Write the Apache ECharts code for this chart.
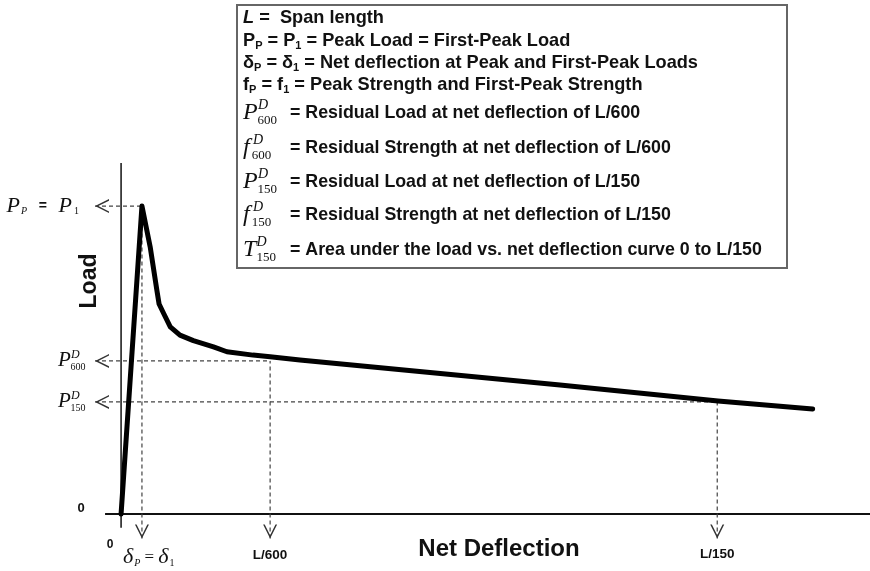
<!DOCTYPE html>
<html><head><meta charset="utf-8">
<script src="https://cdn.jsdelivr.net/npm/echarts@6/dist/echarts.min.js"></script>
<style>html,body{margin:0;padding:0;background:#fff}#c{width:870px;height:571px}</style>
</head><body><div id="c"></div>
<script>
// ---- data (deflection in L/1200 units, load in % of peak) ----
const deflection = [0, 0.28, 0.39, 0.48, 0.51, 0.57, 0.66, 0.79, 0.97, 1.24, 1.42, 1.77, 2.0, 2.4, 5.89, 8.01, 9.28];
const load       = [0, 100, 86.8, 72.7, 68.2, 65.2, 60.8, 58.1, 56.3, 54.3, 52.7, 51.6, 51.1, 50.0, 41.9, 36.7, 34.1];
const markDeflection = [0.28, 2, 8];       // δP, L/600, L/150
const markLoad       = [100, 49.7, 36.4];  // PP, P600, P150
const deflectionTickLabels = ['δP = δ1', 'L/600', 'L/150'];
const xRange = [-0.35, 10.05];
const yRange = [-8, 114];
const xAxisLineSpan = [-0.215, 10.05];
const yAxisLineSpan = [-4.5, 114];
const legendPlain = [
  '{bi|L}{b| =  Span length}',
  '{b|P}{s|P}{b| = P}{s|1}{b| = Peak Load = First-Peak Load}',
  '{b|δ}{s|P}{b| = δ}{s|1}{b| = Net deflection at Peak and First-Peak Loads}',
  '{b|f}{s|P}{b| = f}{s|1}{b| = Peak Strength and First-Peak Strength}'
];
const legendMath = [
  ['P', 'D', '600', '= Residual Load at net deflection of L/600'],
  ['f', 'D', '600', '= Residual Strength at net deflection of L/600'],
  ['P', 'D', '150', '= Residual Load at net deflection of L/150'],
  ['f', 'D', '150', '= Residual Strength at net deflection of L/150'],
  ['T', 'D', '150', '= Area under the load vs. net deflection curve 0 to L/150']
];

const SANS = '"Liberation Sans", Arial, sans-serif';
const SERIF = '"Liberation Serif", "Times New Roman", serif';
const LEFT_ARROW = 'path://M12,0 L0,6 L12,12 L12,10.6 L2.8,6 L12,1.4 Z';
const DOWN_ARROW = 'path://M0,0 L6,12 L12,0 L10.6,0 L6,9.2 L1.4,0 Z';

const chart = echarts.init(document.getElementById('c'), null, {renderer: 'canvas'});

function dashed(points, arrow) {
  const isLeft = arrow === 'left';
  return {
    type: 'line', silent: true, clip: false, z: 2,
    symbol: isLeft ? LEFT_ARROW : DOWN_ARROW,
    symbolSize: [14, 14],
    symbolOffset: isLeft ? [7, 0] : [0, -7],
    itemStyle: {color: '#333'},
    lineStyle: {color: '#444', width: 1.2, type: [4, 3]},
    data: [{value: points[0]}, {value: points[1], symbol: 'none'}]
  };
}

const series = [];
series.push({type: 'line', silent: true, symbol: 'none', clip: false, z: 1,
  lineStyle: {color: '#111', width: 2},
  data: [[xAxisLineSpan[0], 0], [xAxisLineSpan[1], 0]]});
series.push({type: 'line', silent: true, symbol: 'none', clip: false, z: 1,
  lineStyle: {color: '#111', width: 1.5},
  data: [[0, yAxisLineSpan[0]], [0, yAxisLineSpan[1]]]});
for (let i = 0; i < markDeflection.length; i++) {
  series.push(dashed([[xRange[0], markLoad[i]], [markDeflection[i], markLoad[i]]], 'left'));
  series.push(dashed([[markDeflection[i], yRange[0]], [markDeflection[i], markLoad[i]]], 'down'));
}
series.push({type: 'line', silent: true, symbol: 'none', clip: false, z: 5,
  lineStyle: {color: '#000', width: 5, join: 'round', cap: 'round'},
  data: deflection.map((d, i) => [d, load[i]])});

chart.setOption({
  animation: false,
  backgroundColor: '#fff',
  grid: {left: 95, right: 0, top: 163, bottom: 32.4},
  xAxis: {type: 'value', min: xRange[0], max: xRange[1], show: false},
  yAxis: {type: 'value', min: yRange[0], max: yRange[1], show: false},
  series: series
});

const px = (x, y) => chart.convertToPixel({gridIndex: 0}, [x, y]);
const graphics = [];
function txt(x, y, text, font, align, extra) {
  graphics.push(Object.assign({type: 'text', x: x, y: y, z: 100,
    style: {text: text, font: font, fill: '#111', align: align || 'left', verticalAlign: 'middle'}}, extra || {}));
}
function mathSym(letter, sup, sub, x, y, size, supSize, subSize) {
  const w = {P: 0.62, f: 0.36, T: 0.56}[letter] * size;
  txt(x, y, letter, 'italic ' + size + 'px ' + SERIF);
  txt(x + w + (letter === 'f' ? 0.06 * size : 0), y - 0.3 * size, sup, 'italic ' + supSize + 'px ' + SERIF);
  txt(x + w - (letter === 'P' ? 0.02 * size : 0), y + 0.3 * size, sub, subSize + 'px ' + SERIF);
}

// legend box
graphics.push({type: 'rect', z: 90, shape: {x: 237, y: 5, width: 550, height: 263},
  style: {fill: '#fff', stroke: '#666', lineWidth: 2}});
const plainY = [18, 41, 63, 85];
legendPlain.forEach((t, i) => {
  graphics.push({type: 'text', x: 243, y: plainY[i], z: 100, style: {
    text: t, align: 'left', verticalAlign: 'middle',
    rich: {
      b: {font: 'bold 18.2px ' + SANS, fill: '#111'},
      bi: {font: 'italic bold 18.2px ' + SANS, fill: '#111'},
      s: {font: 'bold 11px ' + SANS, fill: '#111', padding: [9, 0, 0, 0]}
    }}});
});
const mathY = [113, 148, 182, 215, 250];
legendMath.forEach((m, i) => {
  mathSym(m[0], m[1], m[2], 243, mathY[i], 24, 14, 13);
  txt(290, mathY[i], m[3], 'bold 17.8px ' + SANS);
});

// axis-side labels
const o = px(0, 0);
const tipY = px(0, yRange[0])[1];
txt(o[0] - 40, o[1] - 6, '0', 'bold 13px ' + SANS, 'center');
txt(o[0] - 11, o[1] + 31, '0', 'bold 12px ' + SANS, 'center');
txt(px(markDeflection[1], 0)[0], tipY + 17, deflectionTickLabels[1], 'bold 13.5px ' + SANS, 'center');
txt(px(markDeflection[2], 0)[0], tipY + 16, deflectionTickLabels[2], 'bold 13.5px ' + SANS, 'center');
graphics.push({type: 'text', x: px(markDeflection[0], 0)[0] - 19, y: tipY + 19, z: 100, style: {
  text: '{d|δ}{ds|P}{eq| = }{d|δ}{s1|1}', align: 'left', verticalAlign: 'middle',
  rich: {
    d: {font: 'italic 22px ' + SERIF, fill: '#111'},
    ds: {font: 'italic 10px ' + SERIF, fill: '#111', padding: [11, 0, 0, 1]},
    eq: {font: '17px ' + SERIF, fill: '#111'},
    s1: {font: '10px ' + SERIF, fill: '#111', padding: [11, 0, 0, 1]}
  }}});
graphics.push({type: 'text', x: 79, y: px(0, markLoad[0])[1], z: 100, style: {
  text: '{P|P}{ps|P}{eq|   =   }{P|P}{s1|1}', align: 'right', verticalAlign: 'middle',
  rich: {
    P: {font: 'italic 22px ' + SERIF, fill: '#111'},
    ps: {font: 'italic 10px ' + SERIF, fill: '#111', padding: [11, 0, 0, 1]},
    eq: {font: 'bold 14px ' + SANS, fill: '#111'},
    s1: {font: '10px ' + SERIF, fill: '#111', padding: [11, 0, 0, 2]}
  }}});
mathSym('P', 'D', '600', 58, px(0, markLoad[1])[1], 21, 12, 10);
mathSym('P', 'D', '150', 58, px(0, markLoad[2])[1], 21, 12, 10);

// axis titles
graphics.push({type: 'text', x: 90, y: 281, rotation: Math.PI / 2, z: 100,
  style: {text: 'Load', font: 'bold 23px ' + SANS, fill: '#111', align: 'center', verticalAlign: 'middle'}});
txt(499, 549, 'Net Deflection', 'bold 24px ' + SANS, 'center');

chart.setOption({graphic: {elements: graphics}});
</script>
</body></html>
